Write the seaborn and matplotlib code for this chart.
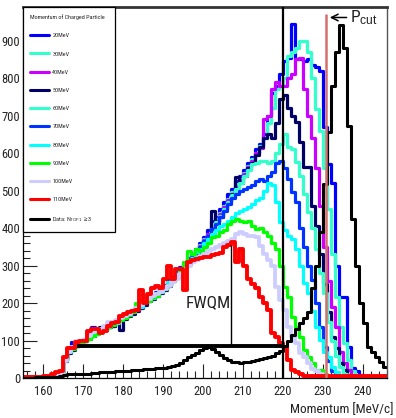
import matplotlib
matplotlib.use("Agg")
import matplotlib.pyplot as plt
import seaborn as sns
import pandas as pd
from matplotlib.lines import Line2D
from matplotlib.ticker import MultipleLocator

# 1 MeV bins, low edges 155 ... 245
bin_low = list(range(155, 246))

series_labels = ["20MeV", "30MeV", "40MeV", "50MeV", "60MeV", "70MeV",
                 "80MeV", "90MeV", "100MeV", "110MeV"]
data_label = r"Data: N$_{\rm TOF1}$ $\geq$3"

s20 = [2, 3, 2, 3, 4, 4, 6, 8, 10, 13,
       48, 75, 95, 90, 100, 105, 118, 135, 125, 130,
       138, 145, 140, 155, 160, 172, 168, 182, 190, 196,
       205, 212, 222, 230, 240, 248, 262, 270, 282, 295,
       305, 320, 330, 345, 360, 375, 395, 420, 430, 450,
       470, 490, 505, 525, 540, 555, 575, 590, 610, 625,
       650, 700, 760, 780, 810, 845, 855, 945, 850, 850,
       845, 850, 835, 830, 820, 670, 570, 520, 300, 217,
       217, 83, 27, 20, 8, 3, 1, 0, 0, 0,
       0]
s30 = [2, 2, 3, 3, 3, 5, 5, 6, 9, 11,
       52, 70, 78, 92, 98, 100, 110, 112, 125, 128,
       130, 140, 148, 152, 158, 165, 172, 175, 186, 195,
       215, 210, 220, 228, 235, 245, 255, 265, 278, 290,
       300, 315, 325, 340, 355, 370, 385, 405, 425, 440,
       460, 478, 495, 515, 530, 548, 565, 585, 600, 620,
       640, 680, 720, 770, 780, 800, 860, 871, 880, 900,
       900, 870, 800, 718, 660, 560, 450, 330, 217, 137,
       94, 48, 20, 6, 2, 1, 0, 0, 0, 0,
       0]
s40 = [2, 2, 2, 3, 3, 4, 5, 7, 9, 12,
       50, 72, 82, 86, 95, 102, 106, 118, 118, 128,
       133, 136, 148, 150, 158, 160, 172, 178, 182, 190,
       210, 205, 218, 225, 232, 242, 252, 260, 276, 288,
       300, 312, 326, 338, 352, 368, 385, 400, 420, 438,
       455, 475, 492, 510, 528, 545, 562, 580, 600, 615,
       690, 700, 770, 790, 780, 780, 800, 810, 850, 855,
       770, 700, 640, 560, 460, 350, 260, 190, 137, 70,
       40, 21, 8, 3, 1, 0, 0, 0, 0, 0,
       0]
s50 = [2, 2, 2, 2, 3, 3, 4, 6, 8, 10,
       45, 68, 75, 85, 90, 98, 104, 112, 125, 135,
       128, 135, 140, 150, 128, 158, 165, 172, 180, 188,
       195, 205, 210, 220, 228, 235, 245, 260, 270, 280,
       295, 305, 320, 330, 345, 360, 380, 445, 415, 430,
       450, 470, 490, 536, 520, 540, 560, 575, 595, 617,
       640, 650, 640, 680, 745, 756, 720, 700, 684, 630,
       563, 563, 460, 405, 330, 250, 177, 110, 80, 40,
       21, 8, 3, 1, 0, 0, 0, 0, 0, 0,
       0]
s60 = [3, 2, 2, 3, 4, 4, 5, 7, 10, 12,
       55, 74, 80, 90, 92, 104, 110, 118, 118, 130,
       135, 138, 150, 148, 160, 165, 168, 180, 185, 200,
       202, 212, 214, 226, 236, 242, 255, 264, 272, 290,
       298, 312, 322, 340, 350, 365, 380, 398, 415, 432,
       450, 470, 488, 505, 520, 540, 555, 570, 575, 578,
       580, 575, 580, 600, 625, 650, 617, 610, 576, 540,
       490, 442, 400, 343, 280, 228, 150, 100, 60, 30,
       12, 5, 2, 1, 0, 0, 0, 0, 0, 0,
       0]
s70 = [2, 3, 2, 3, 3, 4, 6, 7, 9, 13,
       50, 74, 85, 95, 92, 100, 110, 130, 122, 128,
       135, 136, 146, 152, 155, 165, 168, 178, 182, 195,
       205, 210, 215, 222, 235, 240, 252, 262, 272, 288,
       298, 308, 322, 335, 350, 365, 380, 398, 412, 430,
       445, 465, 480, 490, 500, 505, 510, 515, 525, 530,
       525, 540, 550, 575, 579, 560, 530, 496, 469, 400,
       350, 300, 262, 200, 137, 83, 45, 20, 8, 3,
       1, 0, 0, 0, 0, 0, 0, 0, 0, 0,
       0]
s80 = [2, 2, 3, 3, 3, 4, 5, 7, 10, 12,
       48, 70, 82, 88, 96, 100, 108, 116, 120, 125,
       132, 140, 145, 150, 158, 162, 170, 175, 185, 190,
       218, 215, 218, 225, 230, 240, 250, 262, 275, 290,
       300, 308, 320, 335, 345, 360, 372, 385, 395, 405,
       412, 420, 430, 440, 445, 450, 455, 465, 475, 480,
       500, 520, 515, 470, 415, 395, 380, 370, 343, 300,
       254, 228, 180, 137, 102, 70, 56, 30, 15, 6,
       3, 1, 0, 0, 0, 0, 0, 0, 0, 0,
       0]
s90 = [2, 2, 2, 3, 4, 4, 5, 7, 9, 12,
       48, 72, 78, 85, 92, 98, 105, 112, 118, 124,
       130, 135, 142, 150, 155, 160, 168, 175, 200, 205,
       205, 205, 215, 220, 232, 238, 248, 260, 272, 282,
       310, 340, 330, 345, 340, 350, 360, 375, 380, 390,
       395, 410, 418, 423, 420, 415, 418, 405, 397, 400,
       390, 380, 360, 343, 298, 244, 217, 163, 137, 110,
       75, 56, 40, 21, 21, 10, 4, 1, 0, 0,
       0, 0, 0, 0, 0, 0, 0, 0, 0, 0,
       0]
s100 = [2, 2, 2, 3, 3, 4, 5, 6, 8, 11,
        45, 70, 82, 98, 100, 102, 112, 122, 130, 132,
        138, 150, 150, 155, 160, 165, 172, 180, 188, 195,
        205, 210, 218, 225, 230, 238, 245, 255, 265, 278,
        290, 300, 310, 315, 325, 330, 340, 345, 350, 355,
        360, 365, 370, 385, 389, 385, 380, 378, 375, 351,
        330, 316, 298, 244, 209, 182, 137, 110, 94, 67,
        55, 40, 25, 20, 10, 5, 2, 1, 0, 0,
        0, 0, 0, 0, 0, 0, 0, 0, 0, 0,
        0]
s110 = [3, 3, 3, 3, 4, 5, 5, 12, 15, 20,
        55, 80, 80, 95, 100, 100, 125, 130, 130, 120,
        125, 140, 148, 150, 165, 170, 175, 180, 182, 235,
        200, 225, 240, 245, 240, 263, 298, 263, 290, 290,
        236, 310, 316, 318, 320, 322, 322, 328, 330, 333,
        350, 355, 362, 310, 345, 300, 265, 250, 240, 217,
        200, 182, 120, 110, 94, 83, 48, 21, 15, 10,
        5, 5, 5, 5, 5, 5, 5, 5, 5, 5,
        5, 5, 5, 5, 5, 5, 5, 5, 5, 5,
        5]
data_vals = [1, 1, 1, 2, 2, 2, 3, 3, 4, 5,
             8, 10, 10, 11, 11, 12, 12, 13, 14, 15,
             15, 16, 17, 18, 19, 20, 20, 21, 22, 22,
             23, 24, 25, 26, 27, 28, 30, 32, 36, 40,
             48, 56, 62, 68, 75, 80, 84, 78, 70, 62,
             54, 48, 44, 42, 40, 42, 44, 46, 48, 50,
             54, 56, 60, 66, 72, 85, 100, 115, 130, 147,
             160, 177, 240, 300, 389, 517, 657, 780, 871, 941,
             880, 673, 424, 300, 200, 147, 83, 70, 56, 44,
             30]

mc_series = [s20, s30, s40, s50, s60, s70, s80, s90, s100, s110]
colors = ["#0000ff", "#33ffcc", "#cc00ff", "#000066", "#33ffcc", "#0033ff",
          "#00ffff", "#00ff00", "#ccccff", "#ff0000"]
widths = [2.3, 2.3, 2.3, 2.3, 2.3, 2.3, 2.3, 2.3, 2.7, 2.8]

# FWQM / cut annotations (values in axis units)
fwqm_y = 86
fwqm_x = [168.5, 219.8]
fwqm_peak_x = 207
fwqm_peak_top = 356
nominal_cut = 220
p_cut = 230.8

sns.set_theme(style="ticks")
plt.rcParams['font.family'] = ['Roboto Condensed', 'DejaVu Sans Condensed',
                               'Liberation Sans Narrow', 'Liberation Sans', 'DejaVu Sans']
plt.rcParams['font.stretch'] = 'condensed'
plt.rcParams['mathtext.fontset'] = 'custom'
plt.rcParams['mathtext.rm'] = 'Liberation Sans'
plt.rcParams['mathtext.it'] = 'Liberation Sans:italic'

fig = plt.figure(figsize=(3.96, 4.18), dpi=100)
ax = fig.add_axes([23 / 396, 1 - 378 / 418, 364 / 396, 371 / 418])

centers = [b + 0.5 for b in bin_low]
edges = bin_low + [bin_low[-1] + 1]

handles = []
for lab, vals, col, lw in zip(series_labels, mc_series, colors, widths):
    df = pd.DataFrame({"p": centers, "n": vals})
    sns.histplot(data=df, x="p", weights="n", bins=edges, element="step",
                 fill=False, color=col, linewidth=lw, ax=ax)
    handles.append(Line2D([], [], color=col, lw=2.2, label=lab))

dfd = pd.DataFrame({"p": centers, "n": data_vals})
sns.histplot(data=dfd, x="p", weights="n", bins=edges, element="step",
             fill=False, color="black", linewidth=2.2, ax=ax)
handles.append(Line2D([], [], color="black", lw=2.2, label=data_label))

ax.axvline(nominal_cut, color="black", lw=1.6, zorder=5)
ax.vlines(p_cut, 0, 970, color="#d4706c", lw=1.8, zorder=5)
ax.hlines(fwqm_y, fwqm_x[0], fwqm_x[1], color="black", lw=2.8, zorder=6)
ax.vlines(fwqm_peak_x, fwqm_y, fwqm_peak_top, color="black", lw=1.0, zorder=6)
ax.text(201.3, 200, "FWQM", ha="center", va="center", fontsize=12.5, color="#222222")
ax.annotate("", xy=(231.0, 962), xytext=(236.6, 962),
            arrowprops=dict(arrowstyle="->", lw=1.1, color="black"))
ax.text(236.8, 962, r"P$_{\rm cut}$", ha="left", va="center", fontsize=12.5, color="#222222")

ax.set_xlim(155, 246)
ax.set_ylim(0, 990)
ax.xaxis.set_major_locator(MultipleLocator(10))
ax.xaxis.set_minor_locator(MultipleLocator(2))
ax.yaxis.set_major_locator(MultipleLocator(100))
ax.yaxis.set_minor_locator(MultipleLocator(20))
ax.set_xticks(range(160, 250, 10))
ax.set_yticks(range(0, 1000, 100))
ax.tick_params(which="major", direction="in", length=10, width=0.8, labelsize=9,
               top=False, right=False, colors="#222222")
ax.tick_params(axis="x", which="major", pad=5)
ax.tick_params(axis="y", which="major", pad=2)
ax.tick_params(which="minor", direction="in", length=5, width=0.8, top=False, right=False)
ax.set_ylabel("")
ax.set_xlabel("Momentum [MeV/c]", fontsize=9.5, loc="right", color="#222222")
ax.xaxis.set_label_coords((393 - 23) / 364, -(403 - 378) / 371)

for side in ["left", "bottom"]:
    ax.spines[side].set_color("black")
    ax.spines[side].set_linewidth(0.9)
ax.spines["top"].set_color("#333333")
ax.spines["top"].set_linewidth(2.0)
ax.spines["right"].set_color("#555555")
ax.spines["right"].set_linewidth(1.0)

leg = ax.legend(handles=handles, title="Momentum of Charged Particle",
                loc="upper left", bbox_to_anchor=(0, 0, 92 / 364, 1), mode="expand",
                borderaxespad=0, fontsize=4.4, title_fontsize=4.4,
                handlelength=3.0, handletextpad=0.6, labelspacing=2.12,
                borderpad=1.2, frameon=True, fancybox=False, framealpha=1)
leg.get_frame().set_edgecolor("black")
leg.get_frame().set_linewidth(0.9)
leg._legend_box.align = "left"
leg.get_title().set_ha("center")

fig.savefig("out.png", dpi=100)
